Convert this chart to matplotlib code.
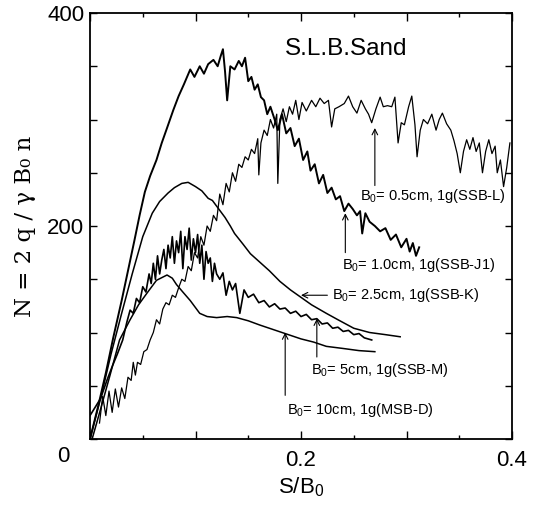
import numpy as np
import matplotlib
matplotlib.use("Agg")
import matplotlib.pyplot as plt
from matplotlib.ticker import FuncFormatter, MultipleLocator

plt.rcParams['font.family'] = ['Liberation Sans', 'DejaVu Sans']
plt.rcParams['mathtext.fontset'] = 'custom'
plt.rcParams['mathtext.rm'] = 'Liberation Sans'
plt.rcParams['mathtext.it'] = 'Liberation Sans'

# B0 = 0.5cm (SSB-L)
s_L = [0.009, 0.012, 0.015, 0.018, 0.021, 0.024, 0.027, 0.030, 0.033, 0.036,
       0.039, 0.041, 0.043, 0.045, 0.048, 0.051, 0.054, 0.057, 0.060, 0.063,
       0.066, 0.069, 0.072, 0.075, 0.078, 0.081, 0.084, 0.087, 0.090, 0.093,
       0.096, 0.099, 0.102, 0.105, 0.108, 0.111, 0.114, 0.117, 0.120, 0.123,
       0.126, 0.129, 0.132, 0.135, 0.138, 0.141, 0.144, 0.147, 0.150, 0.153,
       0.156, 0.159, 0.160, 0.162, 0.165, 0.168, 0.171, 0.174, 0.177, 0.178,
       0.180, 0.183, 0.186, 0.189, 0.192, 0.195, 0.198, 0.201, 0.205, 0.210,
       0.214, 0.218, 0.222, 0.226, 0.229, 0.232, 0.236, 0.241, 0.245, 0.249,
       0.253, 0.257, 0.261, 0.264, 0.267, 0.271, 0.275, 0.278, 0.282, 0.286,
       0.289, 0.292, 0.295, 0.298, 0.302, 0.305, 0.308, 0.310, 0.313, 0.316,
       0.320, 0.324, 0.328, 0.331, 0.334, 0.338, 0.342, 0.345, 0.348, 0.351,
       0.354, 0.357, 0.360, 0.363, 0.366, 0.369, 0.372, 0.375, 0.378, 0.381,
       0.384, 0.386, 0.389, 0.392, 0.395, 0.398]
n_L = [15, 40, 22, 45, 25, 47, 30, 48, 38, 58,
       55, 72, 60, 72, 70, 82, 84, 93, 100, 112,
       108, 122, 128, 126, 135, 133, 142, 150, 148, 162,
       158, 175, 170, 190, 182, 200, 195, 210, 205, 230,
       220, 240, 232, 250, 242, 258, 255, 265, 262, 272,
       268, 282, 248, 278, 290, 285, 300, 292, 305, 240,
       300, 310, 298, 312, 305, 318, 300, 316, 308, 318,
       312, 320, 315, 318, 293, 310, 312, 315, 322, 312,
       306, 318, 310, 305, 297, 310, 321, 312, 313, 312,
       321, 278, 297, 295, 312, 322, 295, 265, 290, 300,
       296, 305, 290, 300, 306, 296, 290, 280, 268, 250,
       270, 281, 272, 283, 270, 278, 250, 270, 281, 268,
       275, 250, 262, 237, 255, 278]

# B0 = 1.0cm (SSB-J1)
s_J1 = [0.000, 0.008, 0.015, 0.022, 0.030, 0.036, 0.042, 0.047, 0.052, 0.057,
        0.063, 0.068, 0.073, 0.079, 0.084, 0.089, 0.095, 0.099, 0.104, 0.108,
        0.112, 0.117, 0.121, 0.124, 0.126, 0.128, 0.130, 0.133, 0.137, 0.141,
        0.144, 0.147, 0.150, 0.153, 0.156, 0.159, 0.162, 0.165, 0.168, 0.171,
        0.175, 0.178, 0.182, 0.186, 0.190, 0.194, 0.198, 0.202, 0.206, 0.209,
        0.213, 0.217, 0.221, 0.225, 0.229, 0.233, 0.237, 0.241, 0.245, 0.249,
        0.253, 0.256, 0.258, 0.261, 0.265, 0.270, 0.275, 0.280, 0.285, 0.290,
        0.295, 0.300, 0.303, 0.306, 0.309, 0.312]
n_J1 = [0, 32, 62, 95, 130, 158, 186, 210, 232, 247,
        262, 278, 292, 309, 322, 333, 347, 340, 350, 343,
        352, 356, 350, 360, 366, 345, 318, 350, 347, 355,
        350, 358, 336, 340, 328, 333, 321, 318, 305, 312,
        300, 290, 305, 287, 292, 275, 282, 262, 270, 252,
        258, 240, 248, 231, 236, 225, 228, 214, 221, 216,
        210, 214, 193, 212, 204, 200, 195, 198, 187, 192,
        180, 188, 176, 184, 172, 180]

# B0 = 2.5cm (SSB-K)
s_K = [0.000, 0.010, 0.020, 0.030, 0.040, 0.050, 0.059, 0.066, 0.074, 0.080,
       0.087, 0.093, 0.100, 0.106, 0.112, 0.116, 0.122, 0.128, 0.133, 0.137,
       0.145, 0.152, 0.161, 0.170, 0.180, 0.190, 0.200, 0.210, 0.224, 0.235,
       0.250, 0.265, 0.280, 0.294]
n_K = [0, 38, 80, 118, 155, 190, 212, 223, 231, 236,
       240, 241, 237, 233, 226, 224, 216, 208, 200, 193,
       183, 174, 166, 158, 148, 140, 133, 126, 118, 112,
       104, 100, 98, 96]

# B0 = 5cm (SSB-M)
s_M = [0.000, 0.005, 0.010, 0.016, 0.021, 0.026, 0.031, 0.035, 0.038, 0.041,
       0.044, 0.047, 0.050, 0.053, 0.056, 0.058, 0.060, 0.062, 0.064, 0.066,
       0.068, 0.070, 0.072, 0.074, 0.076, 0.078, 0.080, 0.082, 0.084, 0.086,
       0.088, 0.090, 0.092, 0.094, 0.096, 0.098, 0.100, 0.102, 0.104, 0.106,
       0.108, 0.110, 0.112, 0.114, 0.116, 0.118, 0.120, 0.123, 0.126, 0.129,
       0.132, 0.135, 0.138, 0.142, 0.146, 0.150, 0.155, 0.160, 0.165, 0.170,
       0.175, 0.180, 0.185, 0.190, 0.195, 0.200, 0.205, 0.210, 0.215, 0.220,
       0.225, 0.230, 0.235, 0.240, 0.245, 0.250, 0.255, 0.260, 0.267]
n_M = [22, 30, 38, 55, 68, 80, 93, 110, 121, 118,
       132, 128, 143, 138, 155, 146, 165, 150, 172, 155,
       168, 178, 160, 182, 170, 190, 165, 186, 175, 195,
       160, 190, 178, 198, 168, 188, 175, 192, 165, 182,
       150, 176, 165, 170, 148, 165, 155, 150, 156, 135,
       148, 140, 146, 118, 140, 133, 136, 128, 130, 124,
       127, 122, 123, 118, 120, 115, 117, 112, 113, 108,
       109, 104, 105, 101, 102, 98, 99, 95, 93]

# B0 = 10cm (MSB-D)
s_D = [0.002, 0.010, 0.019, 0.028, 0.038, 0.046, 0.054, 0.063, 0.073, 0.078,
       0.082, 0.088, 0.095, 0.104, 0.111, 0.120, 0.130, 0.139, 0.150, 0.161,
       0.173, 0.185, 0.200, 0.212, 0.224, 0.240, 0.255, 0.270]
n_D = [0, 28, 60, 93, 112, 126, 137, 149, 154, 151,
       145, 138, 130, 118, 115, 114, 115, 114, 111, 107,
       103, 99, 94, 91, 87, 85, 83, 82]

# labels, arrow tips and arrow tails
labels = [r"B$_0$= 0.5cm, 1g(SSB-L)", r"B$_0$= 1.0cm, 1g(SSB-J1)",
          r"B$_0$= 2.5cm, 1g(SSB-K)", r"B$_0$= 5cm, 1g(SSB-M)",
          r"B$_0$= 10cm, 1g(MSB-D)"]
tips = [(0.270, 292), (0.242, 212), (0.200, 135), (0.215, 113), (0.185, 100)]
tails = [(0.270, 238), (0.242, 175), (0.225, 135), (0.215, 77), (0.185, 41)]
text_pos = [(0.256, 228), (0.239, 163), (0.229, 135), (0.209, 65), (0.187, 27)]

fig = plt.figure(figsize=(5.38, 5.08), dpi=100)
ax = fig.add_axes([0.1673, 0.1358, 0.7844, 0.8386])

ax.plot(s_L, n_L, color='black', lw=0.9)
ax.plot(s_J1, n_J1, color='black', lw=1.4)
ax.plot(s_K, n_K, color='black', lw=1.1)
ax.plot(s_M, n_M, color='black', lw=1.2)
ax.plot(s_D, n_D, color='black', lw=1.1)

for lab, tip, tail, tp in zip(labels, tips, tails, text_pos):
    ax.annotate('', xy=tip, xytext=tail,
                arrowprops=dict(arrowstyle='->', lw=0.8, color='black',
                                shrinkA=0, shrinkB=0))
    ax.text(tp[0], tp[1], lab, fontsize=10.5, va='center', ha='left')

ax.text(0.185, 366, "S.L.B.Sand", fontsize=17.5, va='center', ha='left')

ax.set_xlim(0, 0.4)
ax.set_ylim(0, 400)
ax.xaxis.set_major_locator(MultipleLocator(0.1))
ax.xaxis.set_minor_locator(MultipleLocator(0.05))
ax.xaxis.set_major_formatter(FuncFormatter(
    lambda v, p: '%.1f' % v if abs(v - 0.2) < 1e-6 or abs(v - 0.4) < 1e-6 else ''))
ax.yaxis.set_major_locator(MultipleLocator(50))
ax.yaxis.set_major_formatter(FuncFormatter(
    lambda v, p: '%d' % round(v) if round(v) in (200, 400) else ''))
ax.tick_params(which='both', direction='in', top=True, right=True, width=1.0)
ax.tick_params(which='major', length=6, labelsize=16, pad=8)
ax.tick_params(which='minor', length=3)
ax.tick_params(axis='y', which='major', length=5, pad=4)
for sp in ax.spines.values():
    sp.set_linewidth(1.3)

ax.text(-0.025, -16, "0", fontsize=16, ha='center', va='center')
ax.set_xlabel(r"S/B$_0$", fontsize=16, labelpad=3)
ax.set_ylabel("N = 2 q / γ B₀ n", fontsize=16.5, family='DejaVu Serif', labelpad=8)

fig.savefig("out.png", dpi=100)
